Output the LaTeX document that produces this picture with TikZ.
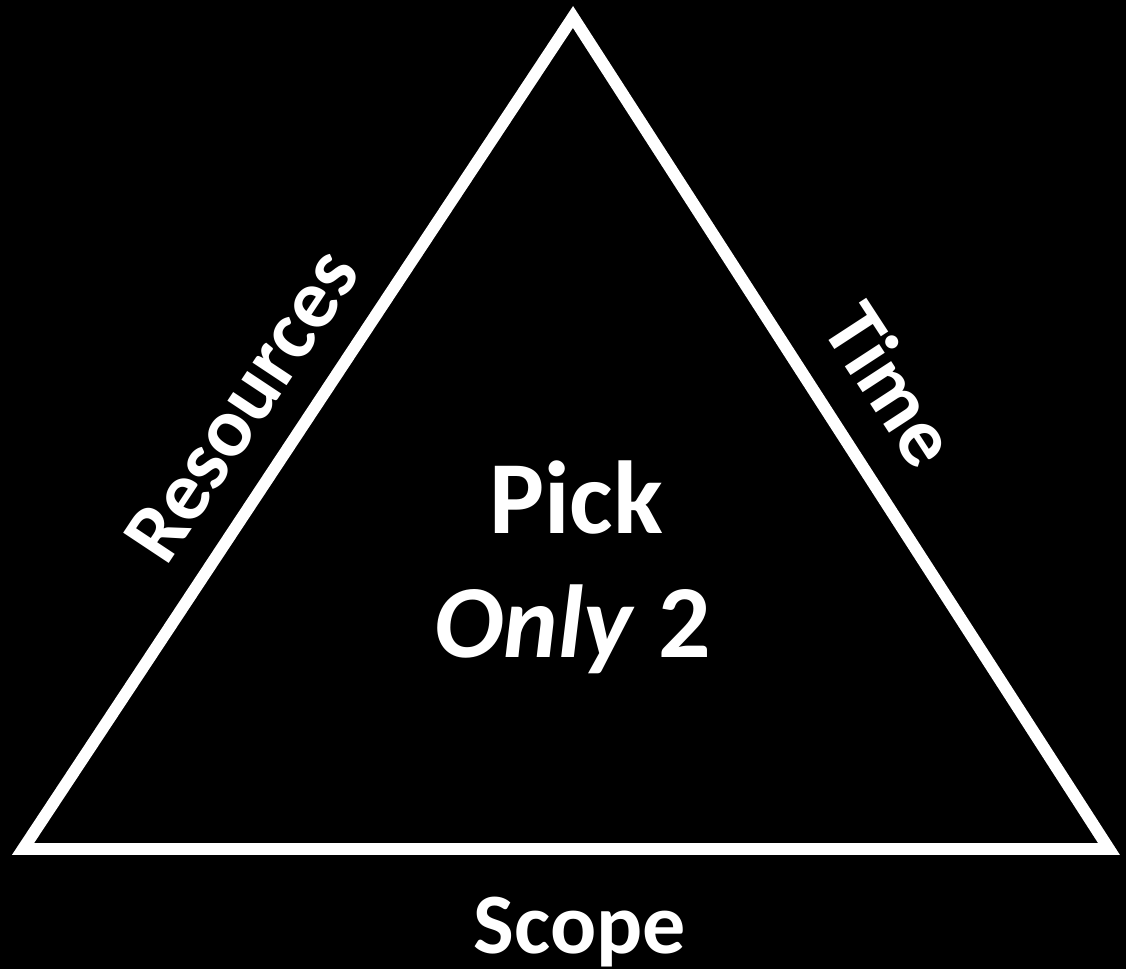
\documentclass[tikz,border=0pt]{standalone}
\usepackage{fontspec}
\setmainfont{Carlito}
\begin{document}
\begin{tikzpicture}[x=0.02cm, y=-0.02cm,
    edge/.style={draw=white, line width=6.8pt, line join=miter},
    label/.style={text=white, font=\bfseries\fontsize{59}{66}\selectfont, inner sep=0pt, anchor=base},
    sidelabel/.style={text=white, font=\bfseries\fontsize{48}{54}\selectfont, inner sep=0pt}
]
% Background
\fill[black] (0,0) rectangle (1126,969);
\useasboundingbox (0,0) rectangle (1126,969);

% Triangle
\coordinate (top) at (573,17);
\coordinate (left) at (23,849);
\coordinate (right) at (1109,849);
\draw[edge] (top) -- (left) -- (right) -- cycle;

% Centre text
\node[label] (pick) at (576,533) {Pick};
\node[label] (only) at (573,657) {\textit{Only} 2};

% Sides
\node[sidelabel, rotate=56.4] (res) at (242,405) {Resources};
\node[sidelabel, rotate=-56.9] (time) at (892,384) {Time};
\node[label, font=\bfseries\fontsize{49}{56}\selectfont] (scope) at (580,953) {Scope};
\end{tikzpicture}
\end{document}
